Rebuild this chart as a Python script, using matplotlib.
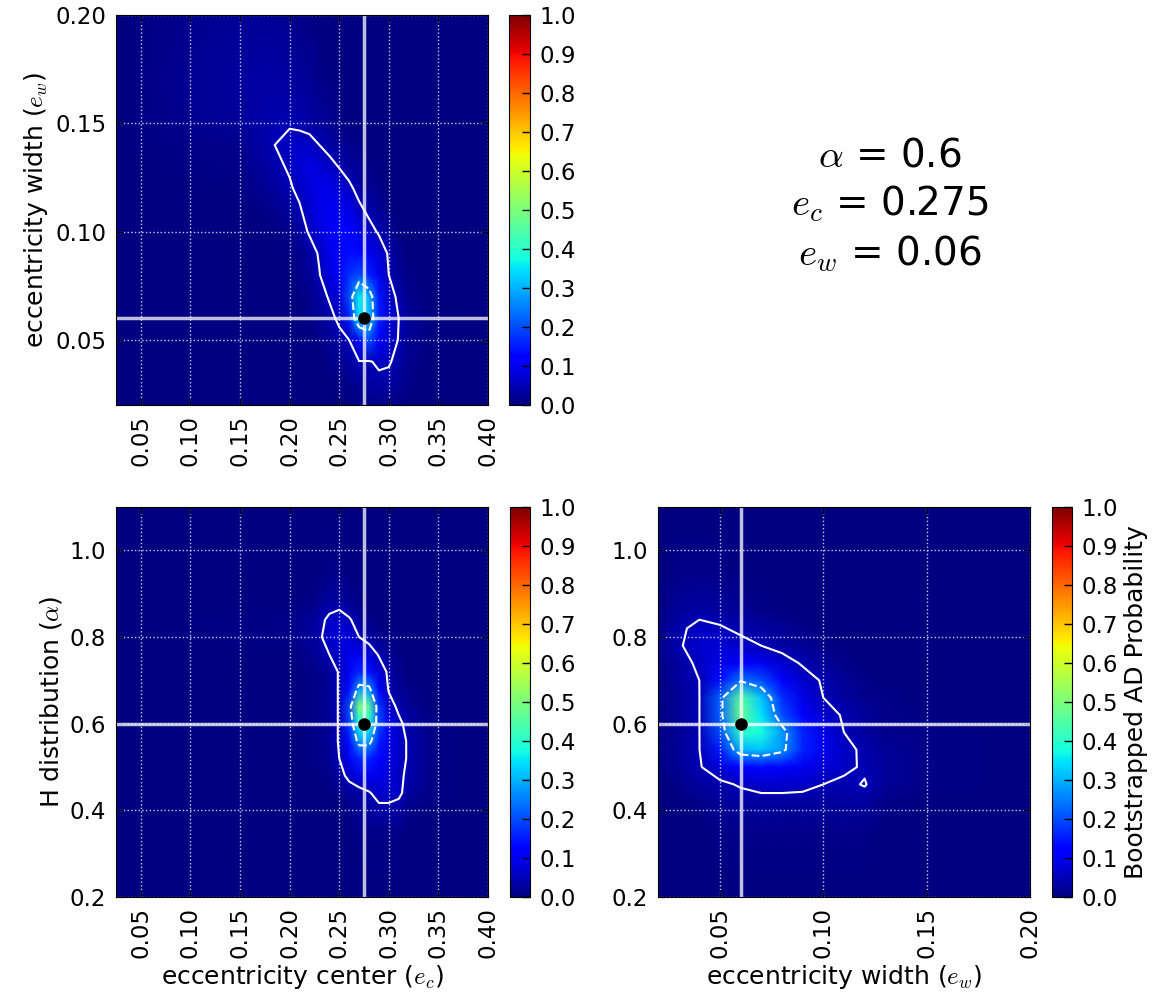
import numpy as np
import matplotlib
matplotlib.use("Agg")
import matplotlib.pyplot as plt
from matplotlib.ticker import FormatStrFormatter

plt.rcParams['mathtext.fontset'] = 'cm'
plt.rcParams['font.size'] = 16.5

# true parameters of the injected population
alpha_true = 0.6
ec_true = 0.275
ew_true = 0.06

# contour levels (solid / dashed)
level_solid = 0.05
level_dashed = 0.25

# --- panel 1 : eccentricity center vs eccentricity width ---
ec_nodes_top = [0.025, 0.15, 0.18, 0.20, 0.21, 0.22, 0.23, 0.24, 0.25, 0.26,
                0.27, 0.28, 0.29, 0.30, 0.31, 0.32, 0.34, 0.40]
ew_nodes_top = [0.02, 0.03, 0.04, 0.05, 0.06, 0.07, 0.08, 0.09, 0.10, 0.11,
                0.12, 0.13, 0.14, 0.15, 0.17, 0.20]
prob_ec_ew = [
    [0, 0, 0, 0, 0, 0, 0, 0, 0, 0, 0.005, 0.01, 0.01, 0.01, 0.005, 0, 0, 0],
    [0, 0, 0, 0, 0, 0, 0, 0, 0.005, 0.01, 0.02, 0.03, 0.035, 0.035, 0.02, 0.01, 0, 0],
    [0, 0, 0, 0, 0, 0, 0, 0.01, 0.02, 0.03, 0.048, 0.045, 0.06, 0.055, 0.035, 0.015, 0, 0],
    [0, 0, 0, 0, 0, 0, 0.01, 0.02, 0.035, 0.05, 0.12, 0.20, 0.12, 0.07, 0.048, 0.02, 0.005, 0],
    [0, 0, 0, 0, 0, 0.01, 0.02, 0.035, 0.06, 0.15, 0.34, 0.32, 0.16, 0.08, 0.05, 0.025, 0.005, 0],
    [0, 0, 0, 0, 0.005, 0.015, 0.03, 0.055, 0.08, 0.20, 0.36, 0.30, 0.15, 0.07, 0.04, 0.015, 0, 0],
    [0, 0, 0, 0, 0.01, 0.02, 0.048, 0.08, 0.11, 0.17, 0.20, 0.16, 0.10, 0.05, 0.02, 0.01, 0, 0],
    [0, 0, 0, 0.005, 0.015, 0.03, 0.055, 0.09, 0.12, 0.14, 0.13, 0.10, 0.075, 0.045, 0.015, 0, 0, 0],
    [0, 0, 0.005, 0.015, 0.03, 0.055, 0.08, 0.10, 0.11, 0.11, 0.09, 0.065, 0.045, 0.02, 0.005, 0, 0, 0],
    [0, 0, 0.01, 0.025, 0.045, 0.07, 0.09, 0.10, 0.10, 0.09, 0.06, 0.04, 0.02, 0.01, 0, 0, 0, 0],
    [0, 0.005, 0.02, 0.045, 0.06, 0.08, 0.09, 0.09, 0.08, 0.06, 0.035, 0.02, 0.01, 0, 0, 0, 0, 0],
    [0, 0.01, 0.035, 0.055, 0.075, 0.085, 0.08, 0.065, 0.048, 0.03, 0.02, 0.01, 0, 0, 0, 0, 0, 0],
    [0, 0.015, 0.045, 0.065, 0.07, 0.065, 0.05, 0.035, 0.025, 0.015, 0.01, 0, 0, 0, 0, 0, 0, 0],
    [0, 0.025, 0.04, 0.045, 0.04, 0.035, 0.025, 0.02, 0.01, 0.005, 0, 0, 0, 0, 0, 0, 0, 0],
    [0, 0.03, 0.035, 0.03, 0.025, 0.02, 0.01, 0.005, 0, 0, 0, 0, 0, 0, 0, 0, 0, 0],
    [0, 0.02, 0.02, 0.015, 0.01, 0.005, 0, 0, 0, 0, 0, 0, 0, 0, 0, 0, 0, 0],
]

# --- panel 2 : eccentricity center vs alpha ---
ec_nodes_bot = [0.025, 0.20, 0.225, 0.24, 0.25, 0.26, 0.27, 0.28, 0.29, 0.30,
                0.31, 0.32, 0.34, 0.40]
alpha_nodes_a = [0.20, 0.35, 0.40, 0.44, 0.48, 0.52, 0.56, 0.60, 0.64, 0.68,
                 0.72, 0.76, 0.80, 0.84, 0.88, 0.95, 1.10]
prob_ec_alpha = [
    [0, 0, 0, 0, 0, 0, 0, 0, 0, 0, 0, 0, 0, 0],
    [0, 0, 0, 0, 0, 0, 0.01, 0.01, 0.01, 0.01, 0.01, 0, 0, 0],
    [0, 0, 0, 0, 0, 0.01, 0.02, 0.03, 0.035, 0.035, 0.03, 0.01, 0, 0],
    [0, 0, 0, 0, 0.01, 0.02, 0.03, 0.045, 0.07, 0.07, 0.06, 0.03, 0.01, 0],
    [0, 0, 0, 0.01, 0.03, 0.065, 0.09, 0.10, 0.09, 0.08, 0.06, 0.04, 0.01, 0],
    [0, 0, 0.01, 0.02, 0.05, 0.10, 0.16, 0.16, 0.12, 0.09, 0.065, 0.045, 0.01, 0],
    [0, 0, 0.01, 0.02, 0.055, 0.14, 0.28, 0.28, 0.16, 0.10, 0.065, 0.045, 0.01, 0],
    [0, 0, 0.01, 0.02, 0.055, 0.18, 0.38, 0.38, 0.20, 0.11, 0.06, 0.035, 0.01, 0],
    [0, 0, 0.01, 0.02, 0.055, 0.20, 0.50, 0.46, 0.18, 0.07, 0.04, 0.02, 0, 0],
    [0, 0, 0.01, 0.02, 0.055, 0.14, 0.28, 0.27, 0.12, 0.045, 0.02, 0.01, 0, 0],
    [0, 0, 0.01, 0.02, 0.055, 0.10, 0.16, 0.14, 0.08, 0.04, 0.015, 0, 0, 0],
    [0, 0, 0.02, 0.05, 0.07, 0.09, 0.10, 0.08, 0.045, 0.02, 0.01, 0, 0, 0],
    [0, 0.01, 0.03, 0.07, 0.08, 0.075, 0.05, 0.03, 0.015, 0.01, 0, 0, 0, 0],
    [0, 0.01, 0.025, 0.06, 0.07, 0.055, 0.03, 0.01, 0, 0, 0, 0, 0, 0],
    [0, 0, 0.01, 0.03, 0.035, 0.02, 0.01, 0, 0, 0, 0, 0, 0, 0],
    [0, 0, 0, 0.01, 0.01, 0, 0, 0, 0, 0, 0, 0, 0, 0],
    [0, 0, 0, 0, 0, 0, 0, 0, 0, 0, 0, 0, 0, 0],
]

# --- panel 3 : eccentricity width vs alpha ---
ew_nodes_bot = [0.02, 0.03, 0.04, 0.05, 0.06, 0.07, 0.08, 0.09, 0.10, 0.11,
                0.12, 0.13, 0.15, 0.20]
alpha_nodes_b = [0.20, 0.35, 0.42, 0.46, 0.50, 0.54, 0.58, 0.62, 0.66, 0.70,
                 0.74, 0.78, 0.82, 0.86, 0.95, 1.10]
prob_ew_alpha = [
    [0, 0, 0, 0, 0, 0, 0, 0, 0, 0, 0, 0, 0, 0],
    [0, 0, 0, 0.01, 0.01, 0.01, 0.01, 0.01, 0.01, 0.01, 0.01, 0, 0, 0],
    [0, 0, 0.01, 0.02, 0.03, 0.03, 0.03, 0.03, 0.03, 0.03, 0.03, 0.01, 0, 0],
    [0, 0.01, 0.03, 0.04, 0.055, 0.07, 0.07, 0.065, 0.05, 0.04, 0.053, 0.02, 0.01, 0],
    [0.005, 0.02, 0.046, 0.08, 0.12, 0.13, 0.12, 0.10, 0.08, 0.06, 0.044, 0.025, 0.01, 0],
    [0.005, 0.02, 0.049, 0.15, 0.30, 0.32, 0.27, 0.16, 0.10, 0.065, 0.04, 0.02, 0.01, 0],
    [0.005, 0.02, 0.049, 0.20, 0.40, 0.38, 0.28, 0.16, 0.09, 0.05, 0.03, 0.015, 0.01, 0],
    [0.005, 0.02, 0.049, 0.22, 0.48, 0.35, 0.20, 0.12, 0.07, 0.045, 0.025, 0.01, 0.005, 0],
    [0.005, 0.02, 0.049, 0.22, 0.46, 0.32, 0.17, 0.09, 0.05, 0.03, 0.015, 0.01, 0, 0],
    [0.005, 0.025, 0.05, 0.14, 0.24, 0.20, 0.12, 0.07, 0.045, 0.02, 0.01, 0, 0, 0],
    [0.005, 0.03, 0.06, 0.09, 0.12, 0.10, 0.07, 0.045, 0.025, 0.01, 0, 0, 0, 0],
    [0.01, 0.045, 0.07, 0.075, 0.065, 0.05, 0.035, 0.02, 0.01, 0, 0, 0, 0, 0],
    [0.01, 0.04, 0.065, 0.055, 0.04, 0.03, 0.02, 0.01, 0, 0, 0, 0, 0, 0],
    [0.005, 0.025, 0.035, 0.03, 0.02, 0.01, 0.005, 0, 0, 0, 0, 0, 0, 0],
    [0, 0.01, 0.01, 0.01, 0, 0, 0, 0, 0, 0, 0, 0, 0, 0],
    [0, 0, 0, 0, 0, 0, 0, 0, 0, 0, 0, 0, 0, 0],
]

ec_ticks = [0.05, 0.10, 0.15, 0.20, 0.25, 0.30, 0.35, 0.40]
ew_ticks = [0.05, 0.10, 0.15, 0.20]
alpha_ticks = [0.2, 0.4, 0.6, 0.8, 1.0]
cbar_ticks = [0.0, 0.1, 0.2, 0.3, 0.4, 0.5, 0.6, 0.7, 0.8, 0.9, 1.0]

label_size = 18


def draw_panel(ax, cax, x, y, z, x0, y0, xlim, ylim, xticks, yticks, xfmt, yfmt):
    z = np.array(z, dtype=float)
    mesh = ax.pcolormesh(x, y, z, cmap='jet', vmin=0, vmax=1, shading='gouraud')
    ax.contour(x, y, z, levels=[level_solid], colors='white', linewidths=1.5)
    ax.contour(x, y, z, levels=[level_dashed], colors='white', linewidths=1.5,
               linestyles='dashed')
    ax.axvline(x0, color='white', alpha=0.75, lw=2.5)
    ax.axhline(y0, color='white', alpha=0.75, lw=2.5)
    ax.plot(x0, y0, 'o', color='black', ms=8)
    ax.set_xlim(xlim)
    ax.set_ylim(ylim)
    ax.set_xticks(xticks)
    ax.set_yticks(yticks)
    ax.xaxis.set_major_formatter(FormatStrFormatter(xfmt))
    ax.yaxis.set_major_formatter(FormatStrFormatter(yfmt))
    ax.tick_params(axis='x', labelrotation=90)
    ax.tick_params(direction='in', length=5, pad=7, top=True, right=True)
    ax.grid(True, color='white', ls=':', lw=1, alpha=0.8)

    cb = plt.colorbar(mesh, cax=cax, ticks=cbar_ticks)
    cb.ax.yaxis.set_major_formatter(FormatStrFormatter('%.1f'))
    cb.ax.tick_params(direction='in', length=6, width=1, pad=7)
    return cb


fig = plt.figure(figsize=(11.65, 10.06), dpi=100)

ax1 = fig.add_axes([0.0996, 0.5974, 0.3193, 0.3877])
cax1 = fig.add_axes([0.4369, 0.5974, 0.0180, 0.3877])
ax2 = fig.add_axes([0.0996, 0.1083, 0.3193, 0.3877])
cax2 = fig.add_axes([0.4378, 0.1083, 0.0172, 0.3877])
ax3 = fig.add_axes([0.5648, 0.1083, 0.3193, 0.3877])
cax3 = fig.add_axes([0.9030, 0.1083, 0.0172, 0.3877])

draw_panel(ax1, cax1, ec_nodes_top, ew_nodes_top, prob_ec_ew, ec_true, ew_true,
           (0.025, 0.40), (0.02, 0.20), ec_ticks, ew_ticks, '%.2f', '%.2f')
ax1.set_ylabel(r'eccentricity width ($e_w$)', fontsize=label_size)

draw_panel(ax2, cax2, ec_nodes_bot, alpha_nodes_a, prob_ec_alpha, ec_true, alpha_true,
           (0.025, 0.40), (0.2, 1.1), ec_ticks, alpha_ticks, '%.2f', '%.1f')
ax2.set_xlabel(r'eccentricity center ($e_c$)', fontsize=label_size)
ax2.set_ylabel(r'H distribution ($\alpha$)', fontsize=label_size)

cb3 = draw_panel(ax3, cax3, ew_nodes_bot, alpha_nodes_b, prob_ew_alpha, ew_true, alpha_true,
                 (0.02, 0.20), (0.2, 1.1), ew_ticks, alpha_ticks, '%.2f', '%.1f')
ax3.set_xlabel(r'eccentricity width ($e_w$)', fontsize=label_size)
cb3.set_label('Bootstrapped AD Probability', fontsize=label_size)

fig.text(0.764, 0.796,
         r'$\alpha$ = %g' % alpha_true + '\n' +
         r'$e_c$ = %g' % ec_true + '\n' +
         r'$e_w$ = %g' % ew_true,
         ha='center', va='center', fontsize=28, multialignment='center',
         linespacing=1.3)

fig.savefig('out.png', dpi=100)
